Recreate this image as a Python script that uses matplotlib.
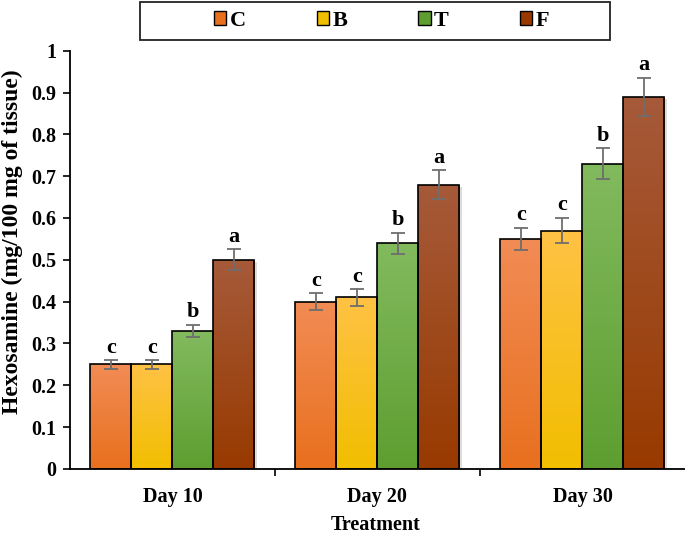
import matplotlib
matplotlib.use('Agg')
import matplotlib.pyplot as plt
import numpy as np
from matplotlib.colors import LinearSegmentedColormap
from matplotlib.patches import Patch, Rectangle

plt.rcParams['font.family'] = ['Liberation Serif', 'DejaVu Serif']
plt.rcParams['font.weight'] = 'bold'

days = ['Day 10', 'Day 20', 'Day 30']
groups = ['C', 'B', 'T', 'F']
values = {
    'C': [0.25, 0.40, 0.55],
    'B': [0.25, 0.41, 0.57],
    'T': [0.33, 0.54, 0.73],
    'F': [0.50, 0.68, 0.89],
}
errors = {
    'C': [0.010, 0.020, 0.027],
    'B': [0.010, 0.020, 0.030],
    'T': [0.015, 0.025, 0.037],
    'F': [0.025, 0.034, 0.045],
}
letters = {
    'C': ['c', 'c', 'c'],
    'B': ['c', 'c', 'c'],
    'T': ['b', 'b', 'b'],
    'F': ['a', 'a', 'a'],
}
# (top colour, bottom colour) of each gradient
shades = {
    'C': ('#F28C55', '#E8701E'),
    'B': ('#FFC245', '#F2BE00'),
    'T': ('#82BA5E', '#5E9E30'),
    'F': ('#A65A3A', '#983A00'),
}

fig = plt.figure(figsize=(6.85, 5.34), dpi=100)
ax = fig.add_axes([0.102, 0.122, 0.898, 0.783])

x = np.arange(len(days))
width = 0.2
grad = np.linspace(0, 1, 256).reshape(-1, 1)

for i, g in enumerate(groups):
    pos = x + (i - 1.5) * width
    cmap = LinearSegmentedColormap.from_list(g, [shades[g][0], shades[g][1]])
    # soft shadow
    ax.bar(pos + 0.012, values[g], width, bottom=-0.006, color='#bbbbbb',
           alpha=0.5, zorder=1, linewidth=0)
    bars = ax.bar(pos, values[g], width, color='none', edgecolor='black',
                  linewidth=1.2, zorder=3)
    for b in bars:
        x0, y0 = b.get_x(), b.get_y()
        im = ax.imshow(grad, cmap=cmap, aspect='auto', zorder=2,
                       extent=[x0, x0 + b.get_width(), y0, y0 + b.get_height()],
                       origin='upper')
        im.set_clip_path(b)
    ax.errorbar(pos, values[g], yerr=errors[g], fmt='none', ecolor='#6e6e6e',
                elinewidth=1.3, capsize=5, capthick=1.3, zorder=4)
    for p, v, e, t in zip(pos, values[g], errors[g], letters[g]):
        ax.text(p, v + e + 0.006, t, ha='center', va='bottom',
                fontsize=16, fontweight='bold')

ax.set_xlim(-0.5, 2.5)
ax.set_ylim(0, 1)
ax.set_yticks(np.arange(0, 1.01, 0.1))
ax.set_yticklabels(['0'] + ['%.1f' % v for v in np.arange(0.1, 0.95, 0.1)] + ['1'])
ax.set_xticks(x)
ax.set_xticklabels(days)
ax.set_xticks([0.5, 1.5], minor=True)
ax.tick_params(axis='x', which='major', length=0, pad=13, labelsize=14.5)
ax.tick_params(axis='x', which='minor', length=5, width=1.2, direction='out')
ax.tick_params(axis='y', length=5, width=1.2, labelsize=14.5, pad=5)
for s in ['top', 'right']:
    ax.spines[s].set_visible(False)
for s in ['left', 'bottom']:
    ax.spines[s].set_linewidth(1.3)

ax.set_ylabel('Hexosamine (mg/100 mg of tissue)', fontsize=17,
              fontweight='bold', va='center')
ax.yaxis.set_label_coords(-0.093, 0.543)
ax.set_xlabel('Treatment', fontsize=14.5, fontweight='bold', va='center')
ax.xaxis.set_label_coords(0.497, -0.134)

# legend frame drawn separately, legend entries inside it
fig.patches.append(Rectangle((140 / 685, 1 - 40 / 534), 470 / 685, 38 / 534,
                             transform=fig.transFigure, facecolor='white',
                             edgecolor='#222222', linewidth=1.3))
handles = [Patch(facecolor=shades[g][1], edgecolor='black', label=g)
           for g in groups]
fig.legend(handles=handles, ncol=4, loc='center',
           bbox_to_anchor=(0.557, 1 - 21 / 534), frameon=False,
           fontsize=16, handlelength=0.55, handleheight=0.55,
           handletextpad=0.15, columnspacing=3.2)

fig.savefig('out.png', dpi=100)
